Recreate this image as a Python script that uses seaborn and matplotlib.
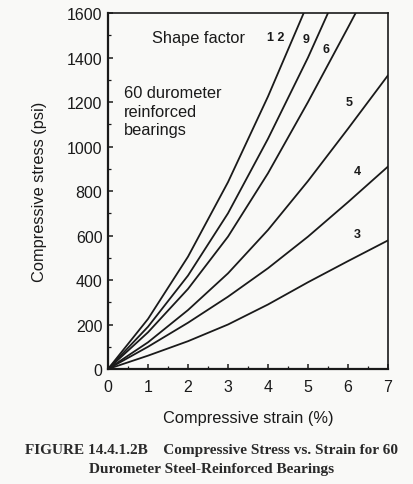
import matplotlib
matplotlib.use("Agg")
import matplotlib.pyplot as plt
import numpy as np
import pandas as pd
import seaborn as sns

# stress (psi) at each strain (%), one curve per shape factor
strain_3 = [0, 1, 2, 3, 4, 5, 6, 7]
stress_3 = [0, 60, 125, 200, 290, 390, 485, 578]
strain_4 = [0, 1, 2, 3, 4, 5, 6, 7]
stress_4 = [0, 100, 208, 325, 453, 595, 750, 910]
strain_5 = [0, 1, 2, 3, 4, 5, 6, 7]
stress_5 = [0, 120, 265, 430, 625, 845, 1080, 1320]
strain_6 = [0, 1, 2, 3, 4, 5, 6, 6.3]
stress_6 = [0, 165, 360, 595, 880, 1200, 1535, 1637]
strain_9 = [0, 1, 2, 3, 4, 5, 5.6]
stress_9 = [0, 190, 420, 700, 1035, 1400, 1640]
strain_12 = [0, 1, 2, 3, 4, 4.95]
stress_12 = [0, 225, 505, 840, 1225, 1624]

shape_factors = ["3", "4", "5", "6", "9", "12"]
x_ticks = [0, 1, 2, 3, 4, 5, 6, 7]
y_ticks = [0, 200, 400, 600, 800, 1000, 1200, 1400, 1600]

curves = {
    "3": (strain_3, stress_3),
    "4": (strain_4, stress_4),
    "5": (strain_5, stress_5),
    "6": (strain_6, stress_6),
    "9": (strain_9, stress_9),
    "12": (strain_12, stress_12),
}
df = pd.concat([pd.DataFrame({"strain": xs, "stress": ys, "sf": sf})
                for sf, (xs, ys) in curves.items()], ignore_index=True)

sns.set_style("ticks")
plt.rcParams["font.family"] = ["Liberation Sans", "DejaVu Sans"]
ink = "#1a1a1a"
bg = "#f9f9f7"

fig = plt.figure(figsize=(4.14, 4.85), dpi=100, facecolor=bg)
ax = fig.add_axes([0.2609, 0.2371, 0.6763, 0.7340], facecolor=bg)

sns.lineplot(data=df, x="strain", y="stress", hue="sf", hue_order=shape_factors,
             palette=[ink] * len(shape_factors), legend=False, sort=False,
             estimator=None, linewidth=1.3, ax=ax)

ax.set_xlim(0, 7)
ax.set_ylim(0, 1600)
ax.set_xticks(x_ticks)
ax.set_yticks(y_ticks)
ax.set_xticks(np.arange(0.5, 7, 1), minor=True)
ax.set_yticks(np.arange(100, 1600, 200), minor=True)
ax.tick_params(which="major", direction="in", length=3.5, width=1.1, colors=ink,
               labelsize=11.5)
ax.tick_params(which="minor", direction="in", length=2, width=0.9, colors=ink)
ax.tick_params(axis="x", pad=7)
ax.tick_params(axis="y", pad=4)

for side in ["left", "bottom"]:
    ax.spines[side].set_linewidth(1.6)
for side in ["top", "right"]:
    ax.spines[side].set_linewidth(1.2)
for s in ax.spines.values():
    s.set_color(ink)

ax.set_xlabel("Compressive strain (%)", fontsize=11.8, color=ink, labelpad=12)
ax.set_ylabel("Compressive stress (psi)", fontsize=11.8, color=ink, labelpad=14)

ax.text(1.1, 1492, "Shape factor", fontsize=11.8, color=ink, va="center")
ax.text(0.40, 1158, "60 durometer\nreinforced\nbearings", fontsize=11.8,
        color=ink, va="center", linespacing=1.3)
labels = {"12": (4.19, 1492), "9": (4.96, 1483), "6": (5.44, 1438),
          "5": (6.02, 1200), "4": (6.24, 890), "3": (6.24, 607)}
for sf, (lx, ly) in labels.items():
    txt = "1 2" if sf == "12" else sf
    ax.text(lx, ly, txt, fontsize=9, color=ink, ha="center", va="center",
            fontweight="bold")

fig.text(0.512, 0.072, "FIGURE 14.4.1.2B    Compressive Stress vs. Strain for 60",
         family="Liberation Serif", fontweight="bold", fontsize=11,
         color="#2a2a2a", ha="center", va="center")
fig.text(0.512, 0.031, "Durometer Steel-Reinforced Bearings",
         family="Liberation Serif", fontweight="bold", fontsize=11,
         color="#2a2a2a", ha="center", va="center")

fig.savefig("out.png", dpi=100, facecolor=bg)
